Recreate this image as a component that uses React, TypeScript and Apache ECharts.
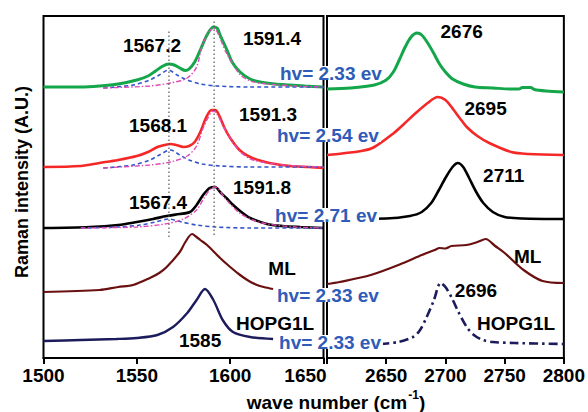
import React, { useEffect, useRef } from 'react';
import * as echarts from 'echarts';

const FONT = 'Arial, "Liberation Sans", sans-serif';

// ---- colours ----
const C_GREEN = '#14a64a';
const C_RED = '#f52828';
const C_BLACK = '#000000';
const C_ML = '#6a1010';
const C_HOPG = '#1c1c5c';
const C_FIT_LOW = '#3356cc';
const C_FIT_HIGH = '#e04ab4';
const C_TEXT_BLUE = '#2f5cb8';

// ---- axis ticks ----
const leftTicks = { min: 1500, max: 1650, interval: 50 };
const rightTicks = { min: 2600, max: 2800, interval: 50 };

// ---- G band (left panel), offset intensities ----
const greenG = [[1500,271],[1520,271],[1530,272],[1540,274],[1550,278],[1556,282],[1560,287],[1564,292],[1567,294],[1570,293],[1573,290],[1576,287.5],[1578,289],[1581,296],[1584,308],[1587.6,323],[1591,331],[1593,330],[1594.6,323],[1598.3,308],[1601,296],[1605.3,286],[1610.7,279],[1616,276],[1624,274],[1632,273],[1640,272],[1650,271]];
const greenFitLow = [[1532,270],[1548,273],[1557,278],[1562,283],[1567,288],[1571.5,283],[1577,278],[1584,274],[1593,272],[1610,271],[1650,271]];
const greenFitHigh = [[1532,270],[1557,272],[1568,275],[1577,280],[1582,291],[1585.5,315],[1591,330],[1598,305],[1605,284],[1611,277],[1620,274],[1635,272],[1650,271]];

const redG = [[1500,191],[1520,192],[1530,195],[1540,198],[1550,202],[1556,206],[1561,211],[1565,213],[1568,214],[1571,213],[1575,211],[1578,212],[1581,216],[1584,226],[1587,240],[1590,248],[1592,248],[1594,243],[1597,230],[1600,220],[1605,208],[1610.7,201],[1615,198],[1621,195],[1632,192],[1642,191],[1650,190]];
const redFitLow = [[1532,190],[1548,193],[1557,198],[1562,203],[1568,208],[1573,203],[1578,198],[1585,194],[1595,192],[1610,191],[1650,191]];
const redFitHigh = [[1532,190],[1557,193],[1568,196],[1577,202],[1582,212],[1586,232],[1591,247],[1598,226],[1605,207],[1611,199],[1620,195],[1635,192],[1650,191]];

const blackG = [[1500,130],[1525,131],[1540,133],[1550,136],[1558.7,139],[1566,142],[1573,144],[1578.5,146],[1582,153],[1585.5,163],[1589,170],[1592,171],[1594.6,166],[1598,160],[1601.6,153],[1606,146],[1610.7,140],[1619.7,134],[1628,132],[1637.5,131],[1650,130]];
const blackFitLow = [[1520,130],[1540,131],[1552,133],[1560,136],[1567,139],[1574,136],[1582,133],[1592,131],[1610,130],[1650,130]];
const blackFitHigh = [[1520,130],[1550,131],[1565,134],[1575,139],[1582,148],[1586,160],[1590,170],[1592,171],[1598,158],[1605,145],[1612,138],[1620,134],[1635,131],[1650,130]];

const mlG = [[1500,66],[1530,68],[1540,71],[1548,73],[1557,80],[1562,85],[1566,91],[1573,106],[1576,116],[1579.6,124],[1582,121],[1584,118],[1587.6,113],[1594.6,100],[1600,91],[1605.3,83],[1610,77],[1614.4,73],[1618,71],[1623,69]];
const hopgG = [[1500,17],[1520,18],[1539,19],[1550,20],[1561,23],[1569.4,31],[1577,45],[1582,58],[1586.5,69],[1591,58],[1596,38],[1601.5,26],[1610.7,21],[1623,19]];

// ---- 2D band (right panel) ----
const green2D = [[2600,269],[2620,270],[2640,273],[2650,278],[2656,286],[2661,298],[2666,311],[2671,321],[2676,325],[2680,323],[2685,315],[2690,305],[2695,294],[2700,286],[2706,279],[2715,274],[2725,271],[2740,270],[2755,269],[2762,269],[2765,270.5],[2772,270.5],[2775,268.5],[2785,267],[2800,266]];
const red2D = [[2600,203],[2629,207],[2640,211],[2656.5,225],[2665,234],[2675,245],[2685,255],[2693.5,261],[2700,258],[2707,248],[2712,240],[2718,231],[2727,222],[2737,215],[2755.6,206],[2770,204],[2800,203]];
const black2D = [[2600,139],[2650,139.5],[2670,142],[2680,146],[2688,155],[2694,167],[2700,180],[2706,191],[2710.5,195],[2715,191],[2720,180],[2726,166],[2732,155],[2740,146],[2750,141],[2765,139.5],[2800,139]];
const ml2D = [[2600,74],[2610.5,76],[2637,83],[2664.5,95],[2680,103],[2691,108],[2695,110],[2700,109.5],[2705,112],[2717.7,113],[2727,116],[2734,119],[2742,112],[2750,105],[2766,88],[2782,77],[2800,75]];
const hopg2D = [[2645,14],[2660,16],[2672.6,21],[2678,27],[2683,38],[2690,57],[2696,75],[2700,71],[2705,61],[2711,46],[2718,31],[2724,23],[2731.5,18],[2740,16],[2758,15],[2800,14]];

// ---- dotted guide lines: [x, yBottom, yTop] ----
const guideLines = [[1567.2, 121, 327], [1591.4, 123, 338]];

// ---- annotations: [text, x, y] ----
const peakLabelsLeft = [['1567.2',1558.1,313],['1591.4',1622.4,320],['1568.1',1561.4,233],['1591.3',1620.3,244],['1567.4',1561.4,156],['1591.8',1617.1,171],['ML',1627.8,90],['HOPG1L',1624.1,35],['1585',1583.9,18]];
const hvLabels = [['hv= 2.33 ev',1625.6,285],['hv= 2.54 ev',1624.0,223],['hv= 2.71 ev',1623.0,143],['hv= 2.33 ev',1624.0,63],['hv= 2.33 ev',1625.1,16]];
const peakLabelsRight = [['2676',2713.7,327],['2695',2733.9,250],['2711',2749.2,183],['ML',2769.4,102],['2696',2725.8,68],['HOPG1L',2759.7,35]];

function lineSeries(data: number[][], idx: number, color: string, width: number, type: any = 'solid', smooth = 0.3) {
  return {
    type: 'line',
    xAxisIndex: idx,
    yAxisIndex: idx,
    data,
    symbol: 'none',
    showSymbol: false,
    smooth,
    silent: true,
    lineStyle: { color, width, type },
    z: 3,
  };
}

function labelSeries(items: any[], idx: number, opts: any) {
  return {
    type: 'scatter',
    xAxisIndex: idx,
    yAxisIndex: idx,
    symbolSize: 1,
    clip: false,
    silent: true,
    z: 20,
    itemStyle: { color: 'rgba(0,0,0,0)', opacity: 1 },
    data: items.map((d) => ({ name: d[0], value: [d[1], d[2]] })),
    label: {
      show: true,
      position: 'inside',
      formatter: (p: any) => p.name,
      fontFamily: FONT,
      fontWeight: 'bold',
      fontSize: 19,
      color: '#000',
      opacity: 1,
      ...opts,
    },
  };
}

function makeAxis(idx: number, t: any, extra: any) {
  return {
    type: 'value',
    gridIndex: idx,
    min: t.min,
    max: t.max,
    interval: t.interval,
    axisLine: { show: true, onZero: false, lineStyle: { color: '#000', width: 2 } },
    axisTick: { show: true, inside: false, length: 6, lineStyle: { color: '#000', width: 2 } },
    splitLine: { show: false },
    axisLabel: {
      color: '#000',
      fontFamily: FONT,
      fontWeight: 'bold',
      fontSize: 19,
      margin: 8,
      ...extra,
    },
  };
}

export default function App() {
  const ref = useRef<HTMLDivElement>(null);
  useEffect(() => {
    document.body.style.margin = '0';
    const chart = echarts.init(ref.current!, null, { renderer: 'svg' });
    const gridBase = { top: 16, height: 342, show: true, borderColor: '#000', borderWidth: 2, backgroundColor: 'transparent', containLabel: false };
    const option: any = {
      animation: false,
      backgroundColor: '#fff',
      grid: [
        { ...gridBase, left: 43.5, width: 280 },
        { ...gridBase, left: 327, width: 248 },
      ],
      xAxis: [
        makeAxis(0, leftTicks, {
          formatter: (v: number) => (v === 1650 ? '{r|1650}' : String(v)),
          rich: { r: { fontFamily: FONT, fontWeight: 'bold', fontSize: 19, color: '#000', padding: [0, 36, 0, 0] } },
        }),
        makeAxis(1, rightTicks, {
          formatter: (v: number) => (v === 2600 ? '' : String(v)),
        }),
      ],
      yAxis: [
        { type: 'value', gridIndex: 0, min: 0, max: 342, show: false },
        { type: 'value', gridIndex: 1, min: 0, max: 342, show: false },
      ],
      graphic: [
        {
          type: 'text',
          x: 22,
          y: 182,
          rotation: Math.PI / 2,
          style: {
            text: 'Raman intensity (A.U.)',
            fontFamily: FONT,
            fontWeight: 'bold',
            fontSize: 18,
            fill: '#000',
            align: 'center',
            verticalAlign: 'middle',
            textAlign: 'center',
            textVerticalAlign: 'middle',
          },
        },
        {
          type: 'text',
          x: 336,
          y: 402,
          style: {
            text: '{a|wave number (cm}{s|-1}{a|)}',
            rich: {
              a: { fontFamily: FONT, fontWeight: 'bold', fontSize: 19, fill: '#000', color: '#000' },
              s: { fontFamily: FONT, fontWeight: 'bold', fontSize: 12, fill: '#000', color: '#000', padding: [0, 0, 14, 1] },
            },
            align: 'center',
            verticalAlign: 'middle',
            textAlign: 'center',
            textVerticalAlign: 'middle',
          },
        },
      ],
      series: [
        // main spectra, left
        lineSeries(greenG, 0, C_GREEN, 3),
        lineSeries(redG, 0, C_RED, 2.6),
        lineSeries(blackG, 0, C_BLACK, 2.6),
        lineSeries(mlG, 0, C_ML, 2.2),
        lineSeries(hopgG, 0, C_HOPG, 2.4),
        // fits
        lineSeries(greenFitLow, 0, C_FIT_LOW, 1.6, [4, 3]),
        lineSeries(greenFitHigh, 0, C_FIT_HIGH, 1.4, [5, 2, 1.5, 2]),
        lineSeries(redFitLow, 0, C_FIT_LOW, 1.6, [4, 3]),
        lineSeries(redFitHigh, 0, C_FIT_HIGH, 1.4, [5, 2, 1.5, 2]),
        lineSeries(blackFitLow, 0, C_FIT_LOW, 1.6, [4, 3]),
        lineSeries(blackFitHigh, 0, C_FIT_HIGH, 1.4, [5, 2, 1.5, 2]),
        // guides
        ...guideLines.map((g) =>
          lineSeries([[g[0], g[1]], [g[0], g[2]]], 0, '#555', 1.2, [1.5, 2.5], 0)
        ),
        // right spectra
        lineSeries(green2D, 1, C_GREEN, 3),
        lineSeries(red2D, 1, C_RED, 2.6),
        lineSeries(black2D, 1, C_BLACK, 2.6),
        lineSeries(ml2D, 1, C_ML, 2.2),
        lineSeries(hopg2D, 1, C_HOPG, 2.6, [9, 4, 2.5, 4]),
        // annotations
        labelSeries(peakLabelsLeft, 0, {}),
        labelSeries(peakLabelsRight, 1, {}),
        labelSeries(hvLabels, 0, {
          align: 'left',
          color: C_TEXT_BLUE,
          fontSize: 19,
          lineHeight: 14,
          backgroundColor: '#fff',
          padding: [0, 2, 0, 2],
        }),
      ],
    };
    chart.setOption(option);
    return () => chart.dispose();
  }, []);
  return <div ref={ref} style={{ position: 'fixed', left: 0, top: 0, width: 588, height: 412 }} />;
}
